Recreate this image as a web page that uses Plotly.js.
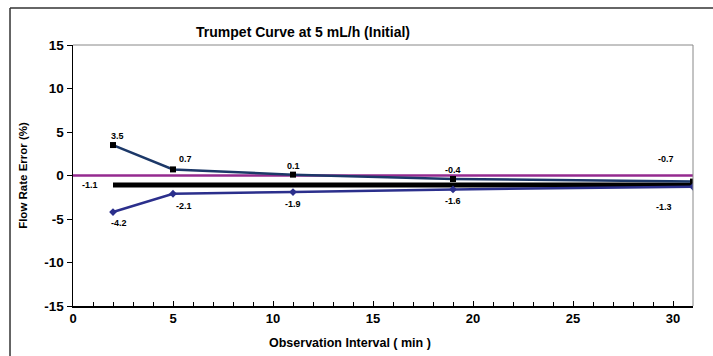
<!DOCTYPE html>
<html>
<head>
<meta charset="utf-8">
<script src="https://cdn.plot.ly/plotly-3.0.1.min.js"></script>
<style>
  html, body { margin: 0; padding: 0; background: #fff; }
  #chart { width: 713px; height: 356px; }
</style>
</head>
<body>
<div id="chart"></div>
<script>
// ---- data ----
const intervals = [2, 5, 11, 19, 31];
const maxError = [3.5, 0.7, 0.1, -0.4, -0.7];
const minError = [-4.2, -2.1, -1.9, -1.6, -1.3];
const meanError = -1.1;
const meanRange = [2, 31];
const zeroRange = [0, 31];
const xTicks = [0, 5, 10, 15, 20, 25, 30];
const yTicks = [-15, -10, -5, 0, 5, 10, 15];
const titleText = 'Trumpet Curve at 5 mL/h (Initial)';
const xTitle = 'Observation Interval ( min )';
const yTitle = 'Flow Rate Error (%)';

const FONT = 'Arial, "Liberation Sans", sans-serif';
const upperColor = '#1c3868';
const lowerColor = '#2b2f8c';
const purple = '#952a8f';

// label offsets (style only)
const upperShift = [[4, 9], [12, 10], [0, 9], [0, 9], [-27, 23]];
const lowerShift = [[6, -11], [11, -12], [0, -12], [0, -12], [-29, -20]];

const traces = [
  { x: zeroRange, y: [0, 0], mode: 'lines', line: { color: purple, width: 2.5 }, hoverinfo: 'skip' },
  { x: meanRange, y: [meanError, meanError], mode: 'lines', line: { color: '#000', width: 5 }, hoverinfo: 'skip' },
  { x: intervals, y: maxError, mode: 'lines+markers',
    line: { color: upperColor, width: 2.5 },
    marker: { symbol: 'square', size: 6, color: '#000' } },
  { x: intervals, y: minError, mode: 'lines+markers',
    line: { color: lowerColor, width: 2.5 },
    marker: { symbol: 'diamond', size: 6, color: lowerColor } }
];

const labelFont = { family: FONT, size: 9, color: '#000', weight: 'bold' };
const annotations = [];
intervals.forEach((xv, i) => {
  annotations.push({ x: xv, y: maxError[i], text: maxError[i].toFixed(1), showarrow: false,
    xshift: upperShift[i][0], yshift: upperShift[i][1], font: labelFont });
  annotations.push({ x: xv, y: minError[i], text: minError[i].toFixed(1), showarrow: false,
    xshift: lowerShift[i][0], yshift: lowerShift[i][1], font: labelFont });
});
annotations.push({ x: meanRange[0], y: meanError, text: meanError.toFixed(1), showarrow: false,
  xanchor: 'right', xshift: -13, yshift: 0, font: labelFont });
// x-axis title placed like the reference (left of plot centre)
annotations.push({ xref: 'paper', yref: 'paper', x: 0.447, y: -0.14, xanchor: 'center', yanchor: 'middle',
  text: xTitle, showarrow: false, font: { family: FONT, size: 12.5, color: '#000', weight: 'bold' } });

const layout = {
  width: 713, height: 356,
  margin: { l: 73, r: 20, t: 45, b: 50 },
  paper_bgcolor: '#fff', plot_bgcolor: '#fff',
  showlegend: false,
  title: { text: titleText, x: 0.425, xanchor: 'center', y: 0.91, yanchor: 'middle',
    font: { family: FONT, size: 14, color: '#000', weight: 'bold' } },
  xaxis: {
    range: [0, 31], tickvals: xTicks, ticktext: xTicks.map(String),
    showgrid: false, zeroline: false, showline: true, linecolor: '#000', linewidth: 1.5,
    ticks: 'inside', ticklen: 5, tickcolor: '#000',
    minor: { dtick: 1, ticks: 'inside', ticklen: 4, tickcolor: '#000', showgrid: false },
    tickfont: { family: FONT, size: 13, color: '#000', weight: 'bold' }
  },
  yaxis: {
    range: [-15, 15], tickvals: yTicks, ticktext: yTicks.map(String),
    showgrid: false, zeroline: false, showline: true, linecolor: '#000', linewidth: 1.5,
    ticks: 'outside', ticklen: 5, tickcolor: '#000',
    tickfont: { family: FONT, size: 13.5, color: '#000', weight: 'bold' },
    title: { text: yTitle, standoff: 14, font: { family: FONT, size: 11.5, color: '#000', weight: 'bold' } }
  },
  shapes: [
    { type: 'line', xref: 'paper', yref: 'paper', x0: 0, x1: 1, y0: 1, y1: 1, line: { color: '#888', width: 1 } },
    { type: 'line', xref: 'paper', yref: 'paper', x0: 1, x1: 1, y0: 0, y1: 1, line: { color: '#888', width: 1 } },
    { type: 'line', xref: 'paper', yref: 'paper', x0: -0.1016, x1: 1.04, y0: 1.1418, y1: 1.1418, line: { color: '#333', width: 1.5 } },
    { type: 'line', xref: 'paper', yref: 'paper', x0: -0.1016, x1: -0.1016, y0: -0.2, y1: 1.1418, line: { color: '#333', width: 1.5 } }
  ],
  annotations: annotations
};

Plotly.newPlot('chart', traces, layout, { displayModeBar: false, staticPlot: true });
</script>
</body>
</html>
